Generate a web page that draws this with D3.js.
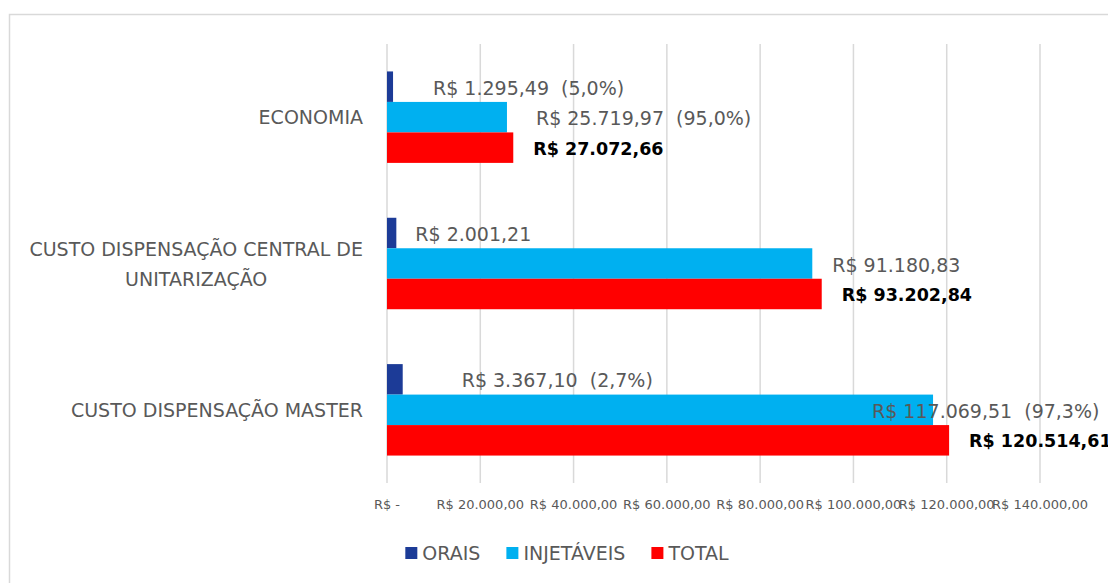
<!DOCTYPE html>
<html>
<head>
<meta charset="utf-8">
<script src="https://cdn.jsdelivr.net/npm/d3@7"></script>
<style>
  body { margin: 0; background: #fff; }
  text { font-family: "DejaVu Sans", sans-serif; white-space: pre; }
</style>
</head>
<body>
<script>
// data
const categories = ['ECONOMIA', 'CUSTO DISPENSAÇÃO CENTRAL DE UNITARIZAÇÃO', 'CUSTO DISPENSAÇÃO MASTER'];
const categoryLines = [['ECONOMIA'], ['CUSTO DISPENSAÇÃO CENTRAL DE', 'UNITARIZAÇÃO'], ['CUSTO DISPENSAÇÃO MASTER']];
const seriesNames = ['ORAIS', 'INJETÁVEIS', 'TOTAL'];
const orais = [1295.49, 2001.21, 3367.10];
const injetaveis = [25719.97, 91180.83, 117069.51];
const total = [27072.66, 93202.84, 120514.61];
const oraisPct = ['5,0%', null, '2,7%'];
const injetaveisPct = ['95,0%', null, '97,3%'];
const xTicks = [0, 20000, 40000, 60000, 80000, 100000, 120000, 140000];

const colors = ['#1c3b97', '#00b0f0', '#ff0000'];
// label nudges (px right of bar end), labels were moved by hand in the original
const labelNudge = [[40, 19, 59], [29, 20, -61], [20, 20, 20]];

const width = 1108, height = 583;

const br = d3.formatLocale({ decimal: ',', thousands: '.', grouping: [3], currency: ['R$ ', ''] });
const money = br.format('$,.2f');

let svg = d3.select('body')
    .append('svg')
    .attr('width', width)
    .attr('height', height);

// chart border
svg.append('rect')
    .attr('x', 9.5).attr('y', 14.5)
    .attr('width', width + 20).attr('height', height + 20)
    .attr('fill', 'none')
    .attr('stroke', '#d9d9d9')
    .attr('stroke-width', 1.5);

let x = d3.scaleLinear().domain([0, 140000]).range([387, 1040]);
let y = d3.scaleBand().domain(categories).range([44, 483]).paddingInner(0.375).paddingOuter(0.1875);
let ySub = d3.scaleBand().domain(seriesNames).range([0, y.bandwidth()]);

// gridlines
svg.append('g')
    .selectAll('line')
    .data(xTicks)
    .enter().append('line')
    .attr('x1', d => x(d)).attr('x2', d => x(d))
    .attr('y1', 44).attr('y2', 483)
    .attr('stroke', '#d9d9d9')
    .attr('stroke-width', 1.5);

// x tick labels
svg.append('g')
    .selectAll('text')
    .data(xTicks)
    .enter().append('text')
    .attr('x', d => x(d))
    .attr('y', 504)
    .attr('text-anchor', 'middle')
    .attr('dominant-baseline', 'central')
    .attr('font-size', '13px')
    .attr('fill', '#595959')
    .text(d => d === 0 ? 'R$ -' : money(d));

// category labels
categories.forEach((c, i) => {
    let lines = categoryLines[i];
    let g = svg.append('text')
        .attr('font-size', '19px')
        .attr('fill', '#595959')
        .attr('text-anchor', 'middle');
    let yc = y(c) + y.bandwidth() / 2;
    let lh = 30;
    lines.forEach((l, j) => {
        g.append('tspan')
            .attr('y', yc + (j - (lines.length - 1) / 2) * lh)
            .attr('dominant-baseline', 'central')
            .text(l);
    });
    // centre lines on each other, block right-aligned
    let maxW = 0;
    g.selectAll('tspan').each(function () { maxW = Math.max(maxW, this.getComputedTextLength()); });
    g.selectAll('tspan').attr('x', 363 - maxW / 2);
});

// bars
const series = [orais, injetaveis, total];
series.forEach((vals, s) => {
    svg.append('g')
        .selectAll('rect')
        .data(vals)
        .enter().append('rect')
        .attr('x', x(0))
        .attr('y', (d, i) => y(categories[i]) + ySub(seriesNames[s]))
        .attr('width', d => x(d) - x(0))
        .attr('height', ySub.bandwidth())
        .attr('fill', colors[s]);
});

// data labels
const pcts = [oraisPct, injetaveisPct, null];
series.forEach((vals, s) => {
    svg.append('g')
        .selectAll('text')
        .data(vals)
        .enter().append('text')
        .attr('x', (d, i) => x(d) + labelNudge[s][i])
        .attr('y', (d, i) => y(categories[i]) + ySub(seriesNames[s]) + ySub.bandwidth() / 2 + 1)
        .attr('dominant-baseline', 'central')
        .attr('font-size', s === 2 ? '17.5px' : '19px')
        .attr('font-weight', s === 2 ? 'bold' : 'normal')
        .attr('fill', s === 2 ? '#000' : '#595959')
        .text((d, i) => {
            let t = money(d);
            if (pcts[s] && pcts[s][i]) t += '  (' + pcts[s][i] + ')';
            return t;
        });
});

// legend
let legend = svg.append('g');
let lx = 0;
seriesNames.forEach((n, i) => {
    let item = legend.append('g').attr('transform', 'translate(' + lx + ',0)');
    item.append('rect')
        .attr('x', 0).attr('y', 547)
        .attr('width', 12).attr('height', 12)
        .attr('fill', colors[i]);
    let t = item.append('text')
        .attr('x', 17).attr('y', 553)
        .attr('dominant-baseline', 'central')
        .attr('font-size', '19px')
        .attr('fill', '#595959')
        .text(n);
    lx += 17 + t.node().getComputedTextLength() + 26;
});
lx -= 26;
legend.attr('transform', 'translate(' + (567 - lx / 2) + ',0)');
</script>
</body>
</html>
